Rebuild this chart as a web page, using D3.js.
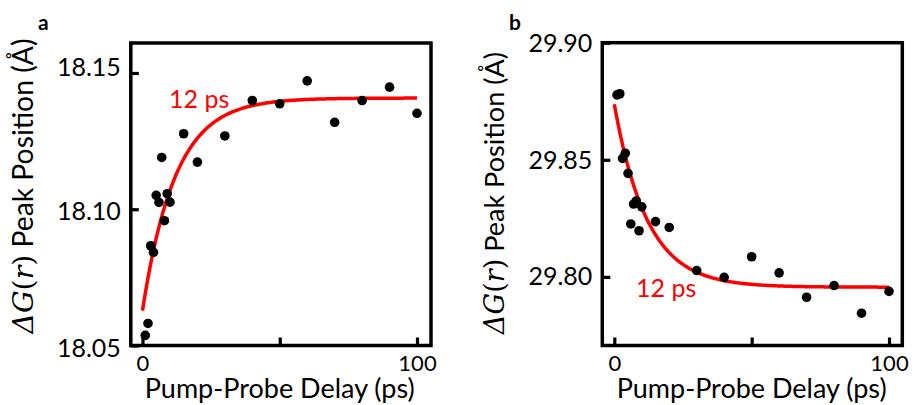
<!DOCTYPE html>
<html>
<head>
<meta charset="utf-8">
<script src="https://cdn.jsdelivr.net/npm/d3@7"></script>
<style>
  html, body { margin: 0; padding: 0; background: #ffffff; }
  svg { display: block; }
  text { font-family: Lato, "Open Sans", sans-serif; fill: #000; }
</style>
</head>
<body>
<svg id="chart" width="914" height="405"></svg>
<script>
// Pump-probe delays (ps), shared by both panels
const delays = [1, 2, 3, 4, 5, 6, 7, 8, 9, 10, 15, 20, 30, 40, 50, 60, 70, 80, 90, 100];

// Panel a: ΔG(r) peak position (Å)
const peakA = [18.0537, 18.0581, 18.0866, 18.0842, 18.1051, 18.1025, 18.1190, 18.0958, 18.1057, 18.1026,
               18.1277, 18.1173, 18.1269, 18.1399, 18.1387, 18.1471, 18.1319, 18.1399, 18.1448, 18.1352];
// Panel b: ΔG(r) peak position (Å)
const peakB = [29.8777, 29.8782, 29.8506, 29.8528, 29.8442, 29.8226, 29.8311, 29.8324, 29.8197, 29.8299,
               29.8236, 29.8211, 29.8027, 29.7998, 29.8086, 29.8017, 29.7913, 29.7963, 29.7845, 29.7938];

// Single-exponential fits: [plateau, amplitude at t = 0, time constant (ps)]
const fitA = [18.1408, -0.0780, 12];
const fitB = [29.7956, 0.0781, 12];

// Axis ticks
const xTicks = [0, 50, 100];
const xTickLabels = ["0", "", "100"];
const yTicksA = [18.05, 18.10, 18.15];
const yTicksB = [29.80, 29.85, 29.90];

const svg = d3.select("#chart");
const RED = "#ff0000";

function fitText(sel, target) {
  const fs = parseFloat(sel.attr("font-size"));
  const len = sel.node().getComputedTextLength();
  sel.attr("font-size", (fs * target / len).toFixed(2));
}

function drawPanel(cfg) {
  const x = d3.scaleLinear().domain(cfg.xDomain).range([cfg.left, cfg.right]);
  const y = d3.scaleLinear().domain(cfg.yDomain).range([cfg.bottom, cfg.top]);
  const g = svg.append("g");

  // bottom axis: inward ticks, labels below
  const xa = g.append("g")
    .attr("transform", `translate(0,${cfg.bottom})`)
    .call(d3.axisBottom(x).tickValues(xTicks)
      .tickFormat((d, i) => xTickLabels[i])
      .tickSizeInner(-8).tickSizeOuter(0).tickPadding(10));
  xa.select(".domain").remove();
  xa.selectAll("line").attr("stroke", "#000").attr("stroke-width", 3.2);
  xa.selectAll("text").attr("font-size", 22).attr("font-family", "Lato").attr("fill", "#000");

  // left axis: inward ticks, labels to the left
  const ya = g.append("g")
    .attr("transform", `translate(${cfg.left},0)`)
    .call(d3.axisLeft(y).tickValues(cfg.yTicks)
      .tickFormat(d3.format(".2f"))
      .tickSizeInner(-8).tickSizeOuter(0).tickPadding(10));
  ya.select(".domain").remove();
  ya.selectAll("line").attr("stroke", "#000").attr("stroke-width", 3.2);
  ya.selectAll("text").attr("font-size", 25).attr("font-family", "Lato").attr("fill", "#000")
    .attr("dy", (d, i) => cfg.yLabelDy[i]);

  // frame
  g.append("rect")
    .attr("x", cfg.left).attr("y", cfg.top)
    .attr("width", cfg.right - cfg.left).attr("height", cfg.bottom - cfg.top)
    .attr("fill", "none").attr("stroke", "#000").attr("stroke-width", 3.5);

  // exponential fit
  const [plateau, amp, tau] = cfg.fit;
  const ts = d3.range(0, 100.01, 0.5);
  g.append("path")
    .datum(ts)
    .attr("fill", "none").attr("stroke", RED).attr("stroke-width", 3.5)
    .attr("d", d3.line().x(t => x(t)).y(t => y(plateau + amp * Math.exp(-t / tau))));

  // data points
  g.selectAll("circle.pt")
    .data(delays.map((t, i) => [t, cfg.values[i]]))
    .join("circle").attr("class", "pt")
    .attr("cx", d => x(d[0])).attr("cy", d => y(d[1]))
    .attr("r", 4.8).attr("fill", "#000");

  // time-constant label
  g.append("text")
    .attr("x", cfg.tauLabel[0]).attr("y", cfg.tauLabel[1])
    .attr("font-size", 25).attr("fill", RED).style("fill", RED)
    .text("12 ps");

  // x-axis title
  const xt = g.append("text")
    .attr("x", (x(0) + x(100)) / 2).attr("y", 398)
    .attr("text-anchor", "middle").attr("font-size", 25)
    .text("Pump-Probe Delay (ps)");
  fitText(xt, 270);

  // y-axis title
  const yt = g.append("text")
    .attr("transform", `translate(${cfg.yTitle[0]},${cfg.yTitle[1]}) rotate(-90)`)
    .attr("text-anchor", "middle").attr("font-size", 24);
  const serif = "'DejaVu Serif', 'Liberation Serif', serif";
  yt.append("tspan").attr("font-family", serif).attr("font-style", "italic").text("Δ");
  yt.append("tspan").attr("font-family", serif).attr("font-style", "italic").text("G");
  yt.append("tspan").attr("font-family", serif).text("(");
  yt.append("tspan").attr("font-family", serif).attr("font-style", "italic").text("r");
  yt.append("tspan").attr("font-family", serif).text(")");
  yt.append("tspan").text(" Peak Position (Å)");
  fitText(yt, cfg.yTitle[2]);

  // panel letter
  g.append("text")
    .attr("x", cfg.letter[0]).attr("y", 30)
    .attr("font-size", 21).attr("font-weight", "bold")
    .text(cfg.letter[1]);
}

drawPanel({
  left: 130.8, right: 431, top: 43, bottom: 345.5,
  xDomain: [-4.26, 105.1], yDomain: [18.05, 18.161],
  yTicks: yTicksA, yLabelDy: ["0.42em", "0.42em", "0.1em"],
  values: peakA, fit: fitA,
  tauLabel: [169, 108],
  yTitle: [33, 186, 295],
  letter: [38, "a"]
});

drawPanel({
  left: 602.3, right: 902.3, top: 42.7, bottom: 345.5,
  xDomain: [-4.37, 104.84], yDomain: [29.7707, 29.90],
  yTicks: yTicksB, yLabelDy: ["0.3em", "0.36em", "0.36em"],
  values: peakB, fit: fitB,
  tauLabel: [636, 296.5],
  yTitle: [504, 193, 282],
  letter: [509, "b"]
});
</script>
</body>
</html>
